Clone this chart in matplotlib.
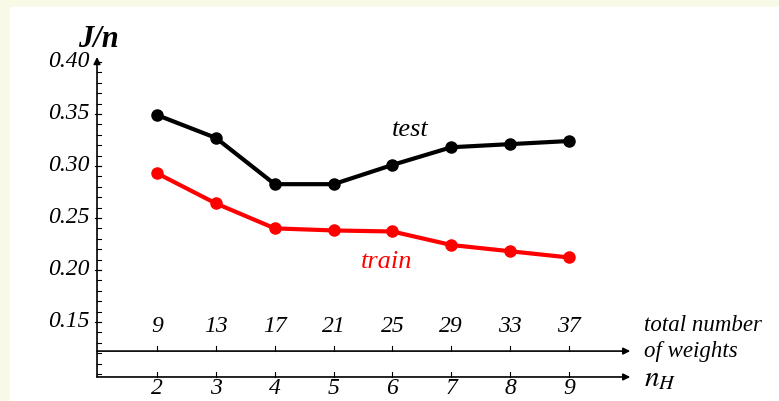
import matplotlib.pyplot as plt
import numpy as np

# hidden units and the matching total weight count
n_hidden = [2, 3, 4, 5, 6, 7, 8, 9]
n_weights = [9, 13, 17, 21, 25, 29, 33, 37]

# criterion per pattern, J/n
test_err = [0.349, 0.327, 0.2825, 0.2825, 0.301, 0.318, 0.321, 0.324]
train_err = [0.293, 0.264, 0.240, 0.238, 0.237, 0.224, 0.218, 0.212]

y_ticks = [0.15, 0.20, 0.25, 0.30, 0.35, 0.40]

plt.rcParams['font.family'] = ['Liberation Serif', 'DejaVu Serif']
plt.rcParams['font.style'] = 'italic'
plt.rcParams['mathtext.fontset'] = 'stix'

fig = plt.figure(figsize=(7.79, 4.01), dpi=100)
fig.patch.set_facecolor('#f8f9e6')
# white panel inside the cream border
fig.add_artist(plt.Rectangle((10 / 779, 0), 1, 1 - 7 / 401,
                             transform=fig.transFigure, color='white', zorder=0))

ax = fig.add_axes([0, 0, 1, 1])
ax.set_xlim(-0.667, 12.567)
ax.set_ylim(0.074, 0.4596)
ax.axis('off')
ax.patch.set_alpha(0)

x0 = 0.981        # where the vertical axis sits
x_end = 10.04     # arrow tips
y_bot = 0.0971    # n_H axis
y_w = 0.122       # weights axis
y_top = 0.4048

arrow = dict(arrowstyle='-|>', color='black', lw=1.2, mutation_scale=10,
             shrinkA=0, shrinkB=0)
ax.annotate('', xy=(x0, y_top), xytext=(x0, y_bot), arrowprops=arrow)
ax.annotate('', xy=(x_end, y_bot), xytext=(x0, y_bot), arrowprops=arrow)
ax.annotate('', xy=(x_end, y_w), xytext=(x0, y_w), arrowprops=arrow)

# y ticks: major at labels, minor every 0.01
for v in np.arange(0.10, 0.401, 0.01):
    ax.plot([x0, x0 + 0.06], [v, v], color='black', lw=0.8)
for v in y_ticks:
    ax.plot([x0 - 0.04, x0 + 0.06], [v, v], color='black', lw=0.8)
    ax.text(x0 - 0.12, v, f'{v:.2f}', ha='right', va='center', fontsize=17)

# x ticks on both horizontal axes
for n, w in zip(n_hidden, n_weights):
    ax.plot([n, n], [y_bot, y_bot + 0.005], color='black', lw=0.8)
    ax.plot([n, n], [y_w, y_w + 0.005], color='black', lw=0.8)
    ax.text(n, y_bot - 0.0115, str(n), ha='center', va='center', fontsize=17)
    ax.text(n, y_w + 0.0135, str(w), ha='center', va='bottom', fontsize=17)

ax.plot(n_hidden, test_err, color='black', lw=3, marker='o', ms=8)
ax.plot(n_hidden, train_err, color='red', lw=3, marker='o', ms=8)

ax.text(6.3, 0.335, 'test', ha='center', va='center', fontsize=19)
ax.text(5.9, 0.208, 'train', ha='center', va='center', fontsize=19, color='red')
ax.text(x0 + 0.02, 0.4215, 'J/n', ha='center', va='center', fontsize=22,
        fontweight='bold')
ax.text(10.28, 0.1465, 'total number', ha='left', va='center', fontsize=16.5)
ax.text(10.28, 0.1215, 'of weights', ha='left', va='center', fontsize=16.5)
ax.text(10.28, 0.0955, r'$n_H$', ha='left', va='center', fontsize=21)

fig.savefig('out.png', dpi=100, facecolor=fig.get_facecolor())
